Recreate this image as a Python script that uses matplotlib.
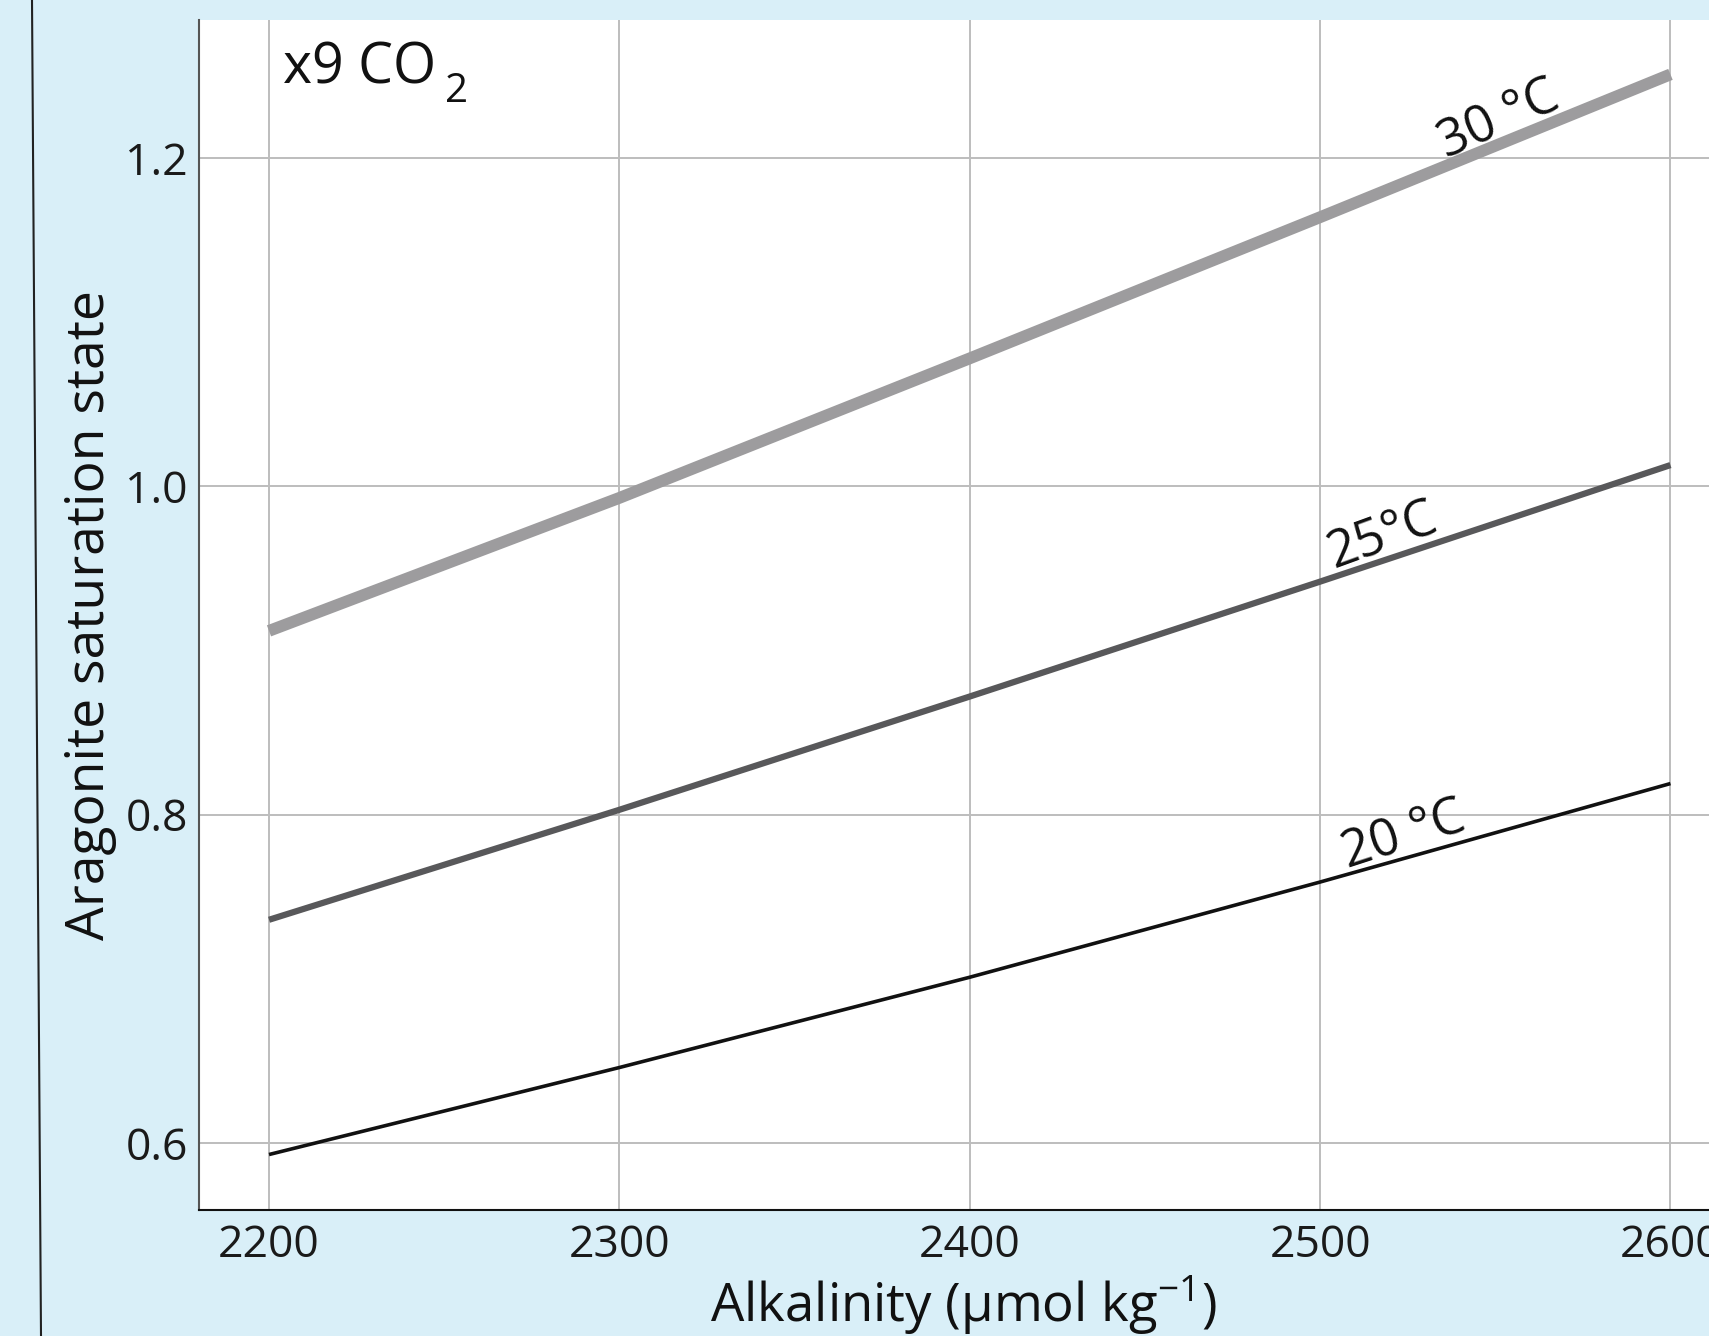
import matplotlib.pyplot as plt
from matplotlib.lines import Line2D

plt.rcParams['font.family'] = ['Open Sans', 'DejaVu Sans']
plt.rcParams['mathtext.fontset'] = 'custom'
plt.rcParams['mathtext.rm'] = 'Open Sans'
plt.rcParams['mathtext.it'] = 'Open Sans:italic'
plt.rcParams['mathtext.bf'] = 'Open Sans:bold'

# data
alkalinity = [2200, 2300, 2400, 2500, 2600]
omega_30 = [0.912, 0.993, 1.078, 1.164, 1.251]
omega_25 = [0.736, 0.803, 0.872, 0.942, 1.013]
omega_20 = [0.593, 0.646, 0.701, 0.759, 0.819]

x_ticks = [2200, 2300, 2400, 2500, 2600]
y_ticks = [0.6, 0.8, 1.0, 1.2]

bg = '#d9eff8'
W, H = 1709, 1336

fig = plt.figure(figsize=(17.09, 13.36), dpi=100, facecolor=bg)
ax = fig.add_axes([0.1164, 0.0943, 0.8836, 0.8907])
ax.set_facecolor('white')

ax.plot(alkalinity, omega_30, color='#9d9c9e', lw=8.5, solid_capstyle='butt', zorder=3)
ax.plot(alkalinity, omega_25, color='#58585a', lw=4.5, solid_capstyle='butt', zorder=3)
ax.plot(alkalinity, omega_20, color='#111111', lw=2.6, solid_capstyle='butt', zorder=3)

ax.set_xlim(2180, 2611)
ax.set_ylim(0.5592, 1.2841)
ax.set_xticks(x_ticks)
ax.set_yticks(y_ticks)
ax.set_yticklabels(['0.6', '0.8', '1.0', '1.2'])
ax.grid(True, color='#bdbdbd', lw=1.4, zorder=0)
ax.set_axisbelow(True)
ax.tick_params(length=0, labelsize=32, colors='#1a1a1a')
ax.tick_params(axis='x', pad=9.5)
ax.tick_params(axis='y', pad=8)

for s in ['top', 'right']:
    ax.spines[s].set_visible(False)
ax.spines['left'].set_color('#555555')
ax.spines['left'].set_linewidth(1.5)
ax.spines['bottom'].set_color('#111111')
ax.spines['bottom'].set_linewidth(1.5)

ax.text(2551, 1.2227, '30 °C', rotation=24, fontsize=37, ha='center', va='center', color='#111111')
ax.text(2518, 0.9693, '25°C', rotation=20, fontsize=37, ha='center', va='center', color='#111111')
ax.text(2524, 0.7867, '20 °C', rotation=18, fontsize=37, ha='center', va='center', color='#111111')

# "x9 CO2" with a large subscript
fig.text(283 / W, 1 - 83 / H, 'x9 CO', fontsize=40, ha='left', va='baseline', color='#111111')
fig.text(445 / W, 1 - 102 / H, '2', fontsize=29, ha='left', va='baseline', color='#111111')

fig.text(963 / W, 1 - 1322 / H, 'Alkalinity (µmol kg$^{−1}$)', fontsize=38,
         ha='center', va='baseline', color='#111111')
fig.text(90 / W, 1 - 615 / H, 'Aragonite saturation state', fontsize=38.5,
         rotation=90, ha='center', va='center', color='#111111')

fig.add_artist(Line2D([32 / W, 41 / W], [1, 0], transform=fig.transFigure,
                      color='#222222', lw=1.5))

fig.savefig('out.png', dpi=100, facecolor=bg)
